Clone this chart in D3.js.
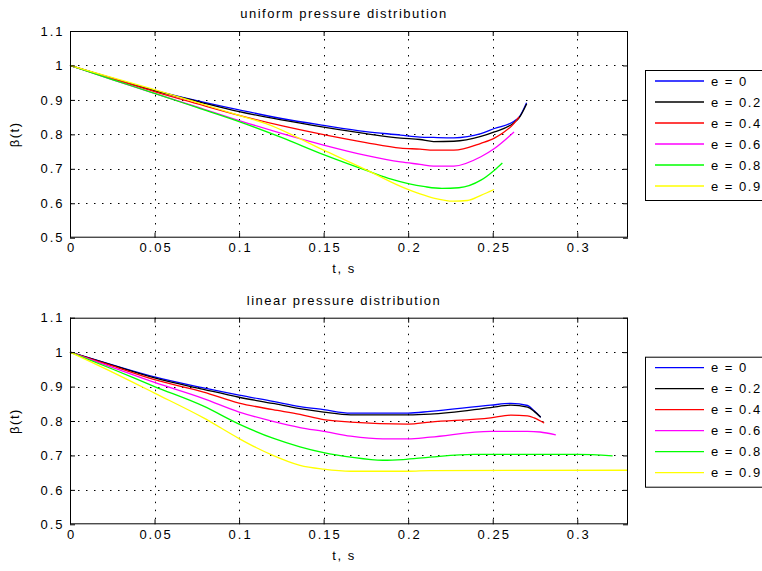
<!DOCTYPE html>
<html>
<head>
<meta charset="utf-8"/>
<title>pressure distribution</title>
<script src="https://cdn.jsdelivr.net/npm/d3@7"></script>
<style>
  body { margin:0; background:#fff; }
  svg { display:block; font-family:"Liberation Sans", Arial, sans-serif; }
  .tick text { font-size:13px; letter-spacing:2px; fill:#000; }
  .tick line { stroke:#000; }
  .domain { display:none; }
</style>
</head>
<body>
<script>
// ticks
var xTicks = [0, 0.05, 0.1, 0.15, 0.2, 0.25, 0.3];
var yTicks = [0.5, 0.6, 0.7, 0.8, 0.9, 1, 1.1];
var labels = ["e = 0", "e = 0.2", "e = 0.4", "e = 0.6", "e = 0.8", "e = 0.9"];
var colors = ["#0000ff", "#000000", "#ff0000", "#ff00ff", "#00ff00", "#ffff00"];

// uniform pressure distribution, [t, beta]
var uE0 = [[0,1],[0.025,0.963],[0.05,0.928],[0.075,0.898],[0.1,0.871],[0.125,0.846],[0.15,0.826],[0.175,0.808],[0.1955,0.798],[0.207,0.792],[0.215,0.791],[0.227,0.790],[0.243,0.802],[0.251,0.817],[0.2626,0.838],[0.2656,0.85],[0.27,0.892]];
var uE2 = [[0,1],[0.025,0.962],[0.05,0.927],[0.075,0.896],[0.1,0.866],[0.125,0.842],[0.15,0.821],[0.175,0.802],[0.1955,0.789],[0.207,0.785],[0.215,0.779],[0.227,0.780],[0.243,0.794],[0.251,0.807],[0.2626,0.834],[0.2656,0.848],[0.2701,0.889]];
var uE4 = [[0,1],[0.025,0.962],[0.05,0.924],[0.075,0.889],[0.1,0.855],[0.125,0.825],[0.15,0.799],[0.175,0.776],[0.1955,0.760],[0.207,0.757],[0.215,0.754],[0.227,0.754],[0.243,0.774],[0.251,0.789],[0.2626,0.832],[0.2656,0.851]];
var uE6 = [[0,1],[0.025,0.959],[0.05,0.919],[0.075,0.88],[0.1,0.84],[0.125,0.803],[0.15,0.769],[0.175,0.739],[0.1955,0.72],[0.207,0.713],[0.215,0.708],[0.227,0.708],[0.243,0.735],[0.251,0.759],[0.2626,0.807]];
var uE8 = [[0,1],[0.025,0.959],[0.05,0.919],[0.075,0.878],[0.1,0.837],[0.125,0.791],[0.15,0.741],[0.1777,0.691],[0.19,0.670],[0.2,0.657],[0.21,0.648],[0.22,0.643],[0.23,0.645],[0.243,0.667],[0.251,0.696],[0.2557,0.717]];
var uE9 = [[0,1],[0.025,0.965],[0.05,0.93],[0.075,0.893],[0.1,0.855],[0.1155,0.832],[0.15,0.754],[0.1777,0.691],[0.1955,0.649],[0.207,0.627],[0.215,0.615],[0.227,0.606],[0.235,0.608],[0.243,0.623],[0.2508,0.640]];

// linear pressure distribution, [t, beta]
var lE0 = [[0,1],[0.025,0.963],[0.05,0.928],[0.079,0.896],[0.1,0.875],[0.12,0.857],[0.136,0.842],[0.15,0.833],[0.166,0.823],[0.2,0.823],[0.213,0.828],[0.2488,0.846],[0.2607,0.851],[0.2706,0.845],[0.2745,0.83],[0.2784,0.811]];
var lE2 = [[0,1],[0.025,0.962],[0.05,0.925],[0.079,0.892],[0.1,0.869],[0.12,0.851],[0.136,0.836],[0.15,0.826],[0.166,0.818],[0.2,0.818],[0.213,0.82],[0.2488,0.839],[0.2607,0.846],[0.2706,0.840],[0.2745,0.828],[0.2784,0.811]];
var lE4 = [[0,1],[0.025,0.96],[0.05,0.92],[0.079,0.884],[0.1,0.852],[0.12,0.833],[0.136,0.819],[0.15,0.804],[0.166,0.797],[0.2,0.791],[0.213,0.797],[0.2488,0.809],[0.2607,0.817],[0.2706,0.815],[0.2745,0.809],[0.2804,0.794]];
var lE6 = [[0,1],[0.025,0.956],[0.05,0.912],[0.079,0.865],[0.1,0.826],[0.12,0.799],[0.136,0.781],[0.15,0.77],[0.166,0.756],[0.185,0.748],[0.2,0.748],[0.213,0.753],[0.2488,0.77],[0.2706,0.77],[0.278,0.768],[0.2873,0.76]];
var lE8 = [[0,1],[0.025,0.951],[0.05,0.90],[0.079,0.843],[0.1,0.791],[0.12,0.750],[0.136,0.725],[0.15,0.708],[0.166,0.695],[0.185,0.686],[0.197,0.688],[0.213,0.695],[0.239,0.703],[0.3,0.703],[0.3209,0.699]];
var lE9 = [[0,1],[0.025,0.942],[0.05,0.881],[0.079,0.809],[0.1,0.749],[0.11,0.723],[0.12,0.700],[0.136,0.671],[0.15,0.660],[0.166,0.654],[0.2,0.654],[0.213,0.656],[0.33,0.657]];

var panels = [
  {title:"uniform pressure distribution", top:31, bottom:237.7, legendTop:70, series:[uE0,uE2,uE4,uE6,uE8,uE9]},
  {title:"linear pressure distribution", top:317.7, bottom:524.3, legendTop:356.7, series:[lE0,lE2,lE4,lE6,lE8,lE9]}
];

var left = 70, right = 628;
var svg = d3.select("body").append("svg").attr("width", 762).attr("height", 571);
var x = d3.scaleLinear().domain([0, 0.33]).range([left, right]);

panels.forEach(function(p){
  var y = d3.scaleLinear().domain([0.5, 1.1]).range([p.bottom, p.top]);
  var g = svg.append("g");

  g.append("rect").attr("x", left).attr("y", p.top)
    .attr("width", right-left).attr("height", p.bottom-p.top)
    .attr("fill", "#fff");

  // dotted grid
  g.selectAll(".vg").data(xTicks.filter(function(d){return d>0;})).enter().append("line")
    .attr("x1", function(d){return Math.round(x(d))+0.5;}).attr("x2", function(d){return Math.round(x(d))+0.5;})
    .attr("y1", p.top).attr("y2", p.bottom)
    .attr("stroke", "#000").attr("stroke-dasharray", "1.5,6.5");
  g.selectAll(".hg").data(yTicks.filter(function(d){return d>0.5 && d<1.1;})).enter().append("line")
    .attr("y1", function(d){return Math.round(y(d))+0.5;}).attr("y2", function(d){return Math.round(y(d))+0.5;})
    .attr("x1", left).attr("x2", right)
    .attr("stroke", "#000").attr("stroke-dasharray", "1.5,6.5");

  // curves
  var line = d3.line().x(function(d){return x(d[0]);}).y(function(d){return y(d[1]);}).curve(d3.curveMonotoneX);
  g.selectAll(".curve").data(p.series).enter().append("path")
    .attr("d", line).attr("fill", "none")
    .attr("stroke", function(d,i){return colors[i];})
    .attr("stroke-width", 1.3);

  // axes with inward ticks
  var fmt = function(d){return String(d);};
  var xb = g.append("g").attr("transform", "translate(0," + p.bottom + ")")
    .call(d3.axisBottom(x).tickValues(xTicks).tickFormat(fmt).tickSizeInner(-5).tickSizeOuter(0).tickPadding(5.3));
  xb.selectAll("text").attr("x", 1);
  g.append("g").attr("transform", "translate(0," + p.top + ")")
    .call(d3.axisTop(x).tickValues(xTicks).tickFormat("").tickSizeInner(-5).tickSizeOuter(0));
  g.append("g").attr("transform", "translate(" + left + ",0)")
    .call(d3.axisLeft(y).tickValues(yTicks).tickFormat(fmt).tickSizeInner(-5).tickSizeOuter(0).tickPadding(5.5));
  g.append("g").attr("transform", "translate(" + right + ",0)")
    .call(d3.axisRight(y).tickValues(yTicks).tickFormat("").tickSizeInner(-5).tickSizeOuter(0));

  g.append("rect").attr("x", left+0.5).attr("y", p.top+0.5)
    .attr("width", right-left-1).attr("height", p.bottom-p.top-1)
    .attr("fill", "none").attr("stroke", "#000");

  // texts
  g.append("text").attr("x", 344).attr("y", p.top-13)
    .attr("text-anchor", "middle").style("font-size", "13px").style("letter-spacing", "1.5px")
    .text(p.title);
  g.append("text").attr("x", 344).attr("y", p.bottom+35.3)
    .attr("text-anchor", "middle").style("font-size", "13px").style("letter-spacing", "1.5px")
    .text("t, s");
  g.append("text")
    .attr("transform", "translate(19," + ((p.top+p.bottom)/2) + ") rotate(-90)")
    .attr("text-anchor", "middle").style("font-size", "13px").style("letter-spacing", "1.5px")
    .text("β(t)");

  // legend
  var lg = g.append("g");
  lg.append("rect").attr("x", 645.5).attr("y", p.legendTop+0.5)
    .attr("width", 140).attr("height", 130)
    .attr("fill", "#fff").attr("stroke", "#000");
  var rows = lg.selectAll(".row").data(labels).enter().append("g")
    .attr("transform", function(d,i){return "translate(0," + (p.legendTop + 11 + i*21) + ")";});
  rows.append("line").attr("x1", 655).attr("x2", 704).attr("y1", 0).attr("y2", 0)
    .attr("stroke", function(d,i){return colors[i];}).attr("stroke-width", 1.3);
  rows.append("text").attr("x", 711).attr("dy", "0.35em")
    .style("font-size", "13px").style("letter-spacing", "1.5px")
    .text(function(d){return d;});
});
</script>
</body>
</html>
